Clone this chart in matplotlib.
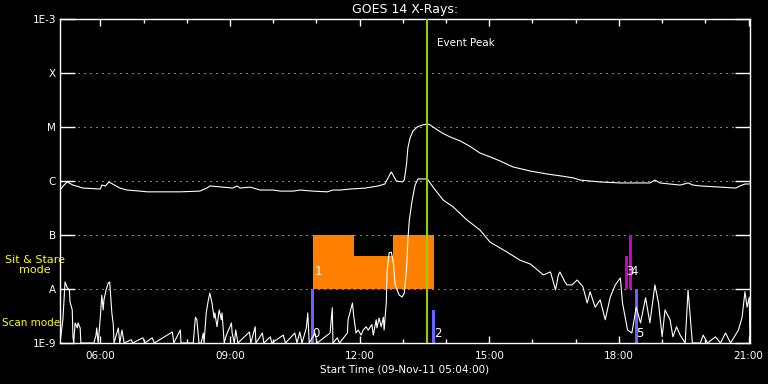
'''
GOES 14 X-ray light curve, 09-Nov-11, with Sit & Stare / Scan mode blocks.
'''
import numpy as np
import matplotlib
matplotlib.use('Agg')
import matplotlib.pyplot as plt
from matplotlib.ticker import FixedLocator, FuncFormatter

# start of the plot: 05:04 (hours of day)
t_start = 5 + 4 / 60.0
t_end_min = 958

# long channel (1-8 A): minutes after start, flux W/m^2
long_min = [0, 4, 10, 18, 32, 56, 58, 63, 68, 83, 93, 111, 121, 139, 167, 194, 204,
            208, 226, 240, 246, 250, 264, 278, 296, 306, 324, 333, 351, 371, 379,
            389, 403, 424, 442, 451, 457, 460, 463, 467, 475, 478, 481, 483, 486,
            490, 496, 503, 510, 514, 522, 531, 542, 556, 569, 583, 597, 611, 629,
            653, 676, 694, 713, 722, 750, 778, 819, 826, 833, 861, 872, 879, 889,
            917, 938, 944, 951, 958]
long_flux = [6.8e-7, 8.0e-7, 9.6e-7, 8.4e-7, 7.4e-7, 7.1e-7, 8.4e-7, 8.1e-7, 9.6e-7,
             7.4e-7, 6.8e-7, 6.5e-7, 6.3e-7, 6.3e-7, 6.3e-7, 6.5e-7, 7.4e-7, 8.1e-7,
             7.7e-7, 7.4e-7, 8.1e-7, 7.4e-7, 7.7e-7, 6.8e-7, 6.8e-7, 6.5e-7, 6.5e-7,
             6.8e-7, 6.5e-7, 6.3e-7, 6.8e-7, 6.8e-7, 7.1e-7, 7.4e-7, 8.1e-7, 8.8e-7,
             1.25e-6, 1.47e-6, 1.25e-6, 1.0e-6, 9.6e-7, 1.04e-6, 1.98e-6, 4.1e-6,
             6.25e-6, 8.4e-6, 1.0e-5, 1.09e-5, 1.14e-5, 1.09e-5, 9.2e-6, 7.7e-6,
             6.5e-6, 5.5e-6, 4.4e-6, 3.3e-6, 2.8e-6, 2.35e-6, 1.82e-6, 1.53e-6,
             1.35e-6, 1.25e-6, 1.14e-6, 1.04e-6, 9.6e-7, 9.2e-7, 9.2e-7, 1.04e-6,
             9.2e-7, 8.4e-7, 9.2e-7, 8.4e-7, 8.1e-7, 7.7e-7, 7.4e-7, 8.1e-7, 8.8e-7,
             8.8e-7]

# short channel (0.5-4 A)
short_min = [0, 4, 7, 10, 13, 14, 17, 18, 19, 21, 24, 25, 28, 29, 47, 50, 51, 53, 56,
             58, 60, 61, 64, 67, 69, 72, 74, 75, 81, 83, 86, 89, 99, 101, 115, 118,
             128, 131, 156, 158, 167, 168, 185, 188, 190, 193, 196, 199, 200, 203,
             206, 208, 211, 214, 215, 218, 221, 224, 225, 228, 231, 236, 238, 239,
             242, 244, 247, 263, 265, 271, 272, 281, 283, 292, 294, 310, 313, 326,
             329, 333, 336, 342, 344, 346, 354, 357, 375, 378, 379, 385, 388, 399,
             400, 406, 408, 411, 414, 418, 421, 425, 428, 433, 435, 439, 440, 443,
             446, 449, 450, 453, 454, 457, 460, 463, 465, 468, 471, 475, 478, 481,
             483, 485, 489, 493, 497, 510, 518, 532, 546, 565, 583, 597, 621, 639,
             653, 663, 671, 681, 688, 692, 694, 701, 704, 711, 718, 726, 732, 736,
             743, 750, 757, 764, 771, 778, 781, 788, 794, 800, 806, 813, 819, 826,
             831, 836, 840, 847, 851, 856, 861, 868, 872, 878, 889, 893, 899, 910,
             917, 924, 931, 942, 947, 951, 954, 957, 958]
short_flux = [1.0e-9, 2.7e-9, 1.35e-8, 1.06e-8, 9.6e-9, 5.7e-9, 4.1e-9, 1.3e-9, 1.0e-9,
              2.35e-9, 1.9e-9, 2.35e-9, 1.9e-9, 1.0e-9, 1.0e-9, 1.4e-9, 1.9e-9, 1.0e-9,
              3.0e-9, 7.7e-9, 4.1e-9, 6.3e-9, 9.6e-9, 1.29e-8, 1.35e-8, 3.6e-9, 2.2e-9,
              1.0e-9, 1.9e-9, 1.0e-9, 1.74e-9, 1.0e-9, 1.15e-9, 1.0e-9, 1.25e-9, 1.0e-9,
              1.25e-9, 1.0e-9, 1.6e-9, 1.0e-9, 1.74e-9, 1.0e-9, 1.0e-9, 3.0e-9, 2.7e-9,
              1.0e-9, 1.0e-9, 1.53e-9, 1.0e-9, 3.6e-9, 6.3e-9, 8.4e-9, 5.5e-9, 2.9e-9,
              3.6e-9, 2.0e-9, 4.1e-9, 2.7e-9, 3.6e-9, 1.0e-9, 1.4e-9, 2.0e-9, 2.35e-9,
              1.53e-9, 1.0e-9, 1.74e-9, 1.0e-9, 1.6e-9, 1.0e-9, 2.0e-9, 1.0e-9, 1.53e-9,
              1.0e-9, 1.3e-9, 1.0e-9, 1.4e-9, 1.0e-9, 1.53e-9, 1.0e-9, 1.6e-9, 1.0e-9,
              1.9e-9, 3.6e-9, 1.0e-9, 1.53e-9, 1.0e-9, 1.53e-9, 4.5e-9, 1.0e-9, 1.25e-9,
              1.0e-9, 1.53e-9, 2.7e-9, 5.5e-9, 3.0e-9, 1.53e-9, 1.74e-9, 1.4e-9, 1.74e-9,
              2.0e-9, 1.74e-9, 2.2e-9, 1.4e-9, 2.7e-9, 1.9e-9, 2.9e-9, 2.0e-9, 3.0e-9,
              1.74e-9, 5.5e-9, 2.0e-8, 4.7e-8, 4.8e-8, 3.0e-8, 1.29e-8, 9.6e-9, 7.7e-9,
              7.1e-9, 8.4e-9, 2.25e-8, 8.1e-8, 1.9e-7, 4.45e-7, 8.4e-7, 1.09e-6, 1.09e-6,
              7.7e-7, 4.45e-7, 3.3e-7, 1.9e-7, 1.24e-7, 7.4e-8, 4.8e-8, 3.4e-8, 2.9e-8,
              2.25e-8, 1.82e-8, 2.07e-8, 9.6e-9, 1.82e-8, 2.07e-8, 1.35e-8, 1.19e-8,
              1.19e-8, 1.47e-8, 1.1e-8, 5.5e-9, 8.9e-9, 4.6e-9, 6.3e-9, 2.7e-9, 7.1e-9,
              1.19e-8, 1.6e-8, 5.5e-9, 1.74e-9, 1.53e-9, 4.6e-9, 2.35e-9, 6.9e-9, 2.35e-9,
              1.19e-8, 5.5e-9, 1.3e-9, 4.1e-9, 2.7e-9, 1.3e-9, 2.0e-9, 1.4e-9, 1.0e-9,
              9.6e-9, 1.0e-9, 1.0e-9, 1.4e-9, 1.0e-9, 1.3e-9, 1.0e-9, 1.53e-9, 1.0e-9,
              1.74e-9, 3.0e-9, 8.9e-9, 4.6e-9, 7.1e-9, 1.0e-9]

# Sit & Stare block (raster 1): start/end minutes and top level
sns_start = [351, 408, 463]
sns_end = [408, 463, 519]
sns_top = [1e-7, 4.1e-8, 1e-7]

# single observations: minute, top flux, label, mode
obs_min = [350, 519, 786, 792, 800]
obs_top = [1e-8, 4.1e-9, 4.1e-8, 1e-7, 1e-8]
obs_label = ['0', '2', '3', '4', '5']
obs_mode = ['scan', 'scan', 'sns', 'sns', 'scan']

peak_min = 510

level_vals = [1e-9, 1e-8, 1e-7, 1e-6, 1e-5, 1e-4, 1e-3]
level_names = ['1E-9', 'A', 'B', 'C', 'M', 'X', '1E-3']

ORANGE = '#ff7f00'
BLUE = '#6464ff'
MAGENTA = '#c800c8'
GREEN = '#9acd00'
FS = 7.5


def hrs(m):
    return t_start + np.asarray(m, dtype=float) / 60.0


fig = plt.figure(figsize=(7.68, 3.84), dpi=100, facecolor='black')
ax = fig.add_axes([60 / 768, 41 / 384, 690 / 768, 324 / 384], facecolor='black')
ax.set_yscale('log')
ax.set_ylim(1e-9, 1e-3)
ax.set_xlim(t_start, hrs(t_end_min))

# dotted flare class levels
for lv in level_vals[1:-1]:
    ax.axhline(lv, color='white', lw=0.72, linestyle=(0, (1, 5)), zorder=1)

# sit & stare block
for s, e, top in zip(sns_start, sns_end, sns_top):
    ax.fill_between([hrs(s), hrs(e)], 1e-8, top, color=ORANGE, lw=0, zorder=2)
ax.text(hrs(sns_start[0]) + 0.04, 2.07e-8, '1', color='white', fontsize=FS + 1,
        va='center', ha='left', zorder=6)

# single observations
for m, top, lab, mode in zip(obs_min, obs_top, obs_label, obs_mode):
    bottom = 1e-9 if mode == 'scan' else 1e-8
    ymid = 1.5e-9 if mode == 'scan' else 2.07e-8
    col = BLUE if mode == 'scan' else MAGENTA
    ax.fill_between([hrs(m - 2), hrs(m + 2)], bottom, top, color=col, lw=0, zorder=2)
    ax.text(hrs(m), ymid, lab, color='white', fontsize=FS + 1, va='center',
            ha='left', zorder=6)

# light curves
ax.plot(hrs(long_min), long_flux, color='white', lw=0.8, zorder=4)
ax.plot(hrs(short_min), short_flux, color='white', lw=0.8, zorder=4)

# event peak
ax.axvline(hrs(peak_min), color=GREEN, lw=1.5, zorder=5)
ax.text(hrs(peak_min) + 0.23, 3.6e-4, 'Event Peak', color='white', fontsize=FS,
        va='center', ha='left')

# axes styling
for sp in ax.spines.values():
    sp.set_color('white')
    sp.set_linewidth(1.0)

ax.yaxis.set_major_locator(FixedLocator(level_vals))
ax.yaxis.set_minor_locator(FixedLocator([]))
ax.set_yticklabels(level_names)
ax.xaxis.set_major_locator(FixedLocator([6, 9, 12, 15, 18, 21]))
ax.xaxis.set_minor_locator(FixedLocator(list(range(6, 22))))
ax.xaxis.set_major_formatter(FuncFormatter(lambda v, p: '%02d:00' % int(round(v))))

ax.tick_params(axis='y', which='major', direction='in', length=10.5, width=1.0,
               colors='white', labelsize=FS, left=True, right=True, pad=3)
ax.tick_params(axis='x', which='major', direction='in', length=5, width=1.0,
               colors='white', labelsize=FS, top=True, bottom=True, pad=6)
ax.tick_params(axis='x', which='minor', direction='in', length=3, width=1.0,
               colors='white', top=True, bottom=True)

ax.set_title('GOES 14 X-Rays:', color='white', fontsize=9, pad=4)
ax.set_xlabel('Start Time (09-Nov-11 05:04:00)', color='white', fontsize=FS, labelpad=2)

# mode labels on the left
fig.text(35 / 768, 1 - 265 / 384, 'Sit & Stare\nmode', color='yellow', fontsize=8,
         ha='center', va='center', linespacing=1.0)
fig.text(2 / 768, 1 - 323 / 384, 'Scan mode', color='yellow', fontsize=FS,
         ha='left', va='center')

fig.savefig('out.png', dpi=100, facecolor='black')
